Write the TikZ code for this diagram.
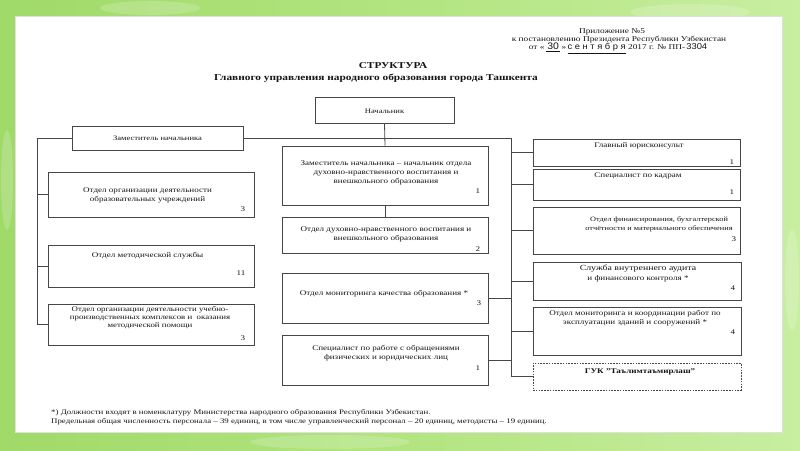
\documentclass[tikz,border=0pt]{standalone}
\usepackage{fontspec}
\setmainfont[FakeStretch=1.26]{Liberation Serif}
\newfontfamily\handfont[FakeStretch=1.1]{Liberation Sans}
\usetikzlibrary{calc}
\definecolor{frameA}{RGB}{160,218,105}
\definecolor{frameB}{RGB}{200,238,160}
\definecolor{frameC}{RGB}{178,228,128}
\definecolor{ink}{RGB}{70,70,70}
\definecolor{txt}{RGB}{20,20,20}
\tikzset{
  box/.style={draw=ink, line width=0.8pt, rectangle, inner sep=0pt},
  dotbox/.style={draw=ink, line width=0.8pt, dash pattern=on 1.6pt off 1.2pt, rectangle, inner sep=0pt},
  btext/.style={font=\fontsize{7.2}{9}\selectfont, align=center, inner sep=0pt, text=txt},
  bnum/.style={font=\fontsize{7.2}{9}\selectfont, inner sep=0pt, text=txt},
  ftext/.style={font=\fontsize{7}{9}\selectfont, align=left, anchor=west, inner sep=0pt, text=txt},
  htext/.style={font=\fontsize{7.4}{9}\selectfont, align=center, inner sep=0pt, text=txt},
  conn/.style={draw=ink, line width=0.8pt}
}
\begin{document}
\begin{tikzpicture}[x=1pt,y=-1pt]
\useasboundingbox (0,0) rectangle (800,450);
% background frame
\shade[left color=frameA, right color=frameB, middle color=frameC] (0,0) rectangle (800,450);
\fill[white, opacity=0.18] (150,8) ellipse (50 and 7);
\fill[white, opacity=0.18] (690,12) ellipse (60 and 8);
\fill[white, opacity=0.18] (792,280) ellipse (7 and 50);
\fill[white, opacity=0.18] (330,442) ellipse (80 and 7);
\fill[white, opacity=0.18] (7,180) ellipse (6 and 50);
\filldraw[fill=white, draw=black!12, line width=0.6pt] (15,16) rectangle (782,432);

% header
\node[htext] (h1) at (612,32) {Приложение №5};
\node[htext] (h2) at (619,40) {к постановлению Президента Республики Узбекистан};
\node[htext] (h3) at (618,48.5) {от «\,\underline{\handfont\fontsize{9.5}{9}\selectfont\,30\,}\,»\,\underline{\handfont\fontsize{8.5}{9}\selectfont с е н т я б р я} 2017 г. № ПП-\,{\handfont\fontsize{8.5}{9}\selectfont 3304}};

% title
\node[font=\fontsize{9}{10}\selectfont\bfseries, inner sep=0pt, text=txt] (title) at (393,66) {СТРУКТУРА};
\node[font=\fontsize{9}{10}\selectfont\bfseries, inner sep=0pt, text=txt] (subtitle) at (376,78) {Главного управления народного образования города Ташкента};

% boxes
\node[box, minimum width=139, minimum height=26] (nach) at (384.5,110) {};
\node[box, minimum width=171, minimum height=24] (L0) at (157.5,138) {};
\node[box, minimum width=206, minimum height=45] (L1) at (151,194.5) {};
\node[box, minimum width=206, minimum height=42] (L2) at (151,266) {};
\node[box, minimum width=206, minimum height=41] (L3) at (151,324.5) {};
\node[box, minimum width=206, minimum height=59] (M1) at (385,175.5) {};
\node[box, minimum width=206, minimum height=36] (M2) at (385,235) {};
\node[box, minimum width=206, minimum height=50] (M3) at (385,298) {};
\node[box, minimum width=206, minimum height=50] (M4) at (385,360) {};
\node[box, minimum width=207, minimum height=27] (R1) at (636.5,152.5) {};
\node[box, minimum width=207, minimum height=31] (R2) at (636.5,184.5) {};
\node[box, minimum width=207, minimum height=47] (R3) at (636.5,230.5) {};
\node[box, minimum width=208, minimum height=38] (R4) at (637,281) {};
\node[box, minimum width=208, minimum height=48] (R5) at (637,331) {};
\node[dotbox, minimum width=208, minimum height=27] (R6) at (637,376.5) {};

% texts
\node[btext, font=\fontsize{6.8}{9}\selectfont] (tnach) at (384.5,111) {Начальник};
\node[btext, font=\fontsize{6.8}{9}\selectfont] (tL0) at (157.5,138) {Заместитель начальника};
\node[btext] (tL1) at (147.5,195.5) {Отдел организации деятельности\\образовательных учреждений};
\node[bnum] (nL1) at (243,209) {3};
\node[btext] (tL2) at (147.5,255.5) {Отдел методической службы};
\node[bnum] (nL2) at (241,273) {11};
\node[btext, font=\fontsize{7}{7.8}\selectfont] (tL3) at (150,317.5) {Отдел организации деятельности учебно-\\производственных комплексов и\ \ оказания\\методической помощи};
\node[bnum] (nL3) at (243,338) {3};
\node[btext] (tM1) at (386,172.5) {Заместитель начальника – начальник отдела\\духовно-нравственного воспитания и\\внешкольного образования};
\node[bnum] (nM1) at (478,191) {1};
\node[btext] (tM2) at (386,234.5) {Отдел духовно-нравственного воспитания и\\внешкольного образования};
\node[bnum] (nM2) at (478,249) {2};
\node[btext] (tM3) at (384,294) {Отдел мониторинга качества образования *};
\node[bnum] (nM3) at (479,303) {3};
\node[btext] (tM4) at (386,353.5) {Специалист по работе с обращениями\\физических и юридических лиц};
\node[bnum] (nM4) at (478,368) {1};
\node[btext] (tR1) at (639,146) {Главный юрисконсульт};
\node[bnum] (nR1) at (732,162) {1};
\node[btext] (tR2) at (638,176) {Специалист по кадрам};
\node[bnum] (nR2) at (732,192) {1};
\node[btext, font=\fontsize{6.6}{9}\selectfont] (tR3) at (659,224.5) {Отдел финансирования, бухгалтерской\\отчётности и материального обеспечения};
\node[bnum] (nR3) at (734,239) {3};
\node[btext, font=\fontsize{7.8}{10}\selectfont] (tR4a) at (638,269) {Служба внутреннего аудита};
\node[btext] (tR4b) at (638,279) {и финансового контроля *};
\node[bnum] (nR4) at (733,288) {4};
\node[btext] (tR5) at (635,318) {Отдел мониторинга и координации работ по\\эксплуатации зданий и сооружений *};
\node[bnum] (nR5) at (733,332) {4};
\node[btext, font=\fontsize{7.2}{9}\selectfont\bfseries] (tR6) at (640,372) {ГУК "Таълимтаъмирлаш"};

% footnotes
\node[ftext] (f1) at (51,413) {*) Должности входят в номенклатуру Министерства народного образования Республики Узбекистан.};
\node[ftext] (f2) at (51,422) {Предельная общая численность персонала – 39 единиц, в том числе управленческий персонал – 20 единиц, методисты – 19 единиц.};

% connectors
\coordinate (rtop) at (511,138);
\coordinate (ltop) at (37,138);
\draw[conn] (nach.south) -- (M1.north);
\draw[conn] (M1.south) -- (M2.north);
\draw[conn] (L0.east) -- (rtop) -- (rtop |- R6.west);
\draw[conn] (L0.west) -- (ltop) -- (ltop |- L3.west);
\draw[conn] (ltop |- L1.west) -- (L1.west);
\draw[conn] (ltop |- L2.west) -- (L2.west);
\draw[conn] (ltop |- L3.west) -- (L3.west);
\draw[conn] (M3.east) -- (rtop |- M3.east);
\draw[conn] (M4.east) -- (rtop |- M4.east);
\draw[conn] (rtop |- R1.west) -- (R1.west);
\draw[conn] (rtop |- R2.west) -- (R2.west);
\draw[conn] (rtop |- R3.west) -- (R3.west);
\draw[conn] (rtop |- R4.west) -- (R4.west);
\draw[conn] (rtop |- R5.west) -- (R5.west);
\draw[conn] (rtop |- R6.west) -- (R6.west);
\end{tikzpicture}
\end{document}
